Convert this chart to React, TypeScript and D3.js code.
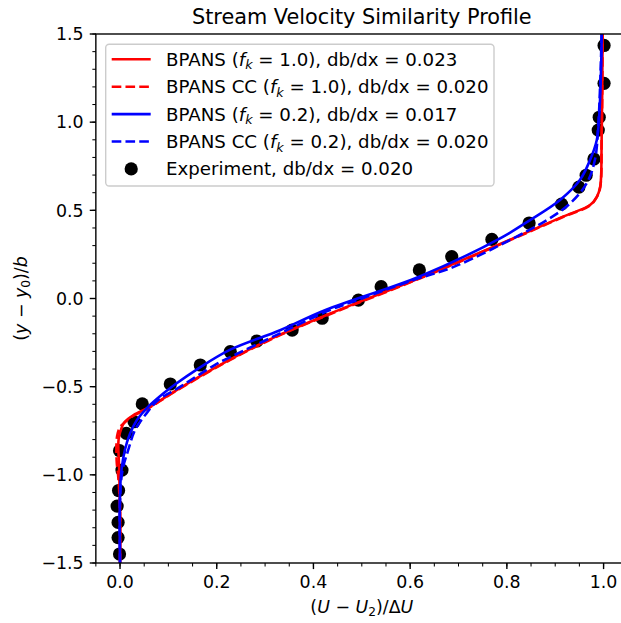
import React from "react";
import * as d3 from "d3";

const titleText = "Stream Velocity Similarity Profile";
const xTickValues = [0, 0.2, 0.4, 0.6, 0.8, 1.0];
const yTickValues = [-1.5, -1.0, -0.5, 0, 0.5, 1.0, 1.5];

// BPANS (fk = 1.0), db/dx = 0.023  -> [U, y]
const redSolid: [number, number][] = [
  [0.0, -1.5], [0.0, -1.2], [-0.002, -0.95], [-0.003, -0.8], [0.004, -0.727], [0.01, -0.699],
  [0.028, -0.661], [0.062, -0.614], [0.117, -0.519], [0.228, -0.345], [0.331, -0.205],
  [0.435, -0.085], [0.621, 0.118], [0.813, 0.341], [0.916, 0.464], [0.972, 0.53], [0.986, 0.577],
  [0.993, 0.634], [0.996, 0.9], [0.998, 1.5],
];
// BPANS CC (fk = 1.0), db/dx = 0.020
const redDashed: [number, number][] = [
  [0.0, -1.5], [0.0, -1.2], [-0.004, -1.0], [-0.007, -0.92], [-0.006, -0.78], [0.0, -0.73],
  [0.01, -0.702], [0.028, -0.665], [0.062, -0.617], [0.117, -0.522], [0.228, -0.348],
  [0.331, -0.208], [0.435, -0.088], [0.621, 0.115], [0.813, 0.339], [0.916, 0.462],
  [0.972, 0.528], [0.986, 0.575], [0.993, 0.63], [0.996, 0.9], [0.998, 1.5],
];
// BPANS (fk = 0.2), db/dx = 0.017
const blueSolid: [number, number][] = [
  [0.0, -1.5], [0.0, -1.1], [0.003, -0.973], [0.01, -0.859], [0.021, -0.764], [0.035, -0.689],
  [0.055, -0.623], [0.09, -0.538], [0.115, -0.485], [0.16, -0.4], [0.228, -0.29],
  [0.331, -0.18], [0.425, -0.065], [0.621, 0.127], [0.786, 0.341], [0.848, 0.445],
  [0.91, 0.559], [0.951, 0.672], [0.972, 0.785], [0.986, 0.899], [0.991, 1.036],
  [0.995, 1.318], [0.996, 1.5],
];
// BPANS CC (fk = 0.2), db/dx = 0.020
const blueDashed: [number, number][] = [
  [0.0, -1.5], [0.0, -1.15], [0.005, -0.976], [0.017, -0.859], [0.031, -0.746], [0.052, -0.661],
  [0.079, -0.576], [0.125, -0.5], [0.194, -0.38], [0.228, -0.332], [0.331, -0.198],
  [0.43, -0.07], [0.5, 0.0], [0.607, 0.105], [0.689, 0.178], [0.813, 0.341], [0.883, 0.445],
  [0.931, 0.54], [0.965, 0.653], [0.982, 0.785], [0.989, 0.98], [0.994, 1.3], [0.996, 1.5],
];
// Experiment, db/dx = 0.020
const experiment: [number, number][] = [
  [1.001, 1.435], [1.001, 1.22], [0.991, 1.028], [0.989, 0.955], [0.98, 0.791], [0.964, 0.699],
  [0.949, 0.632], [0.913, 0.535], [0.846, 0.428], [0.769, 0.335], [0.686, 0.237], [0.619, 0.162],
  [0.54, 0.067], [0.493, -0.009], [0.418, -0.112], [0.356, -0.179], [0.283, -0.241],
  [0.228, -0.301], [0.166, -0.377], [0.104, -0.485], [0.046, -0.598], [0.029, -0.699],
  [0.013, -0.765], [-0.001, -0.863], [0.004, -0.973], [-0.003, -1.089], [-0.006, -1.177],
  [-0.004, -1.27], [-0.004, -1.356], [-0.001, -1.449],
];

const seriesNames = ["BPANS", "BPANS CC", "BPANS", "BPANS CC"];
const seriesFk = ["1.0", "1.0", "0.2", "0.2"];
const seriesDb = ["0.023", "0.020", "0.017", "0.020"];
const seriesColors = ["#ff0000", "#ff0000", "#0000ff", "#0000ff"];
const seriesDashed = [false, true, false, true];
const seriesData = [redSolid, redDashed, blueSolid, blueDashed];
const expLabel = "Experiment, db/dx = 0.020";

export default function App() {
  const W = 621, H = 623;
  const left = 95.85, right = 627.75, top = 34, bottom = 563;
  const x = d3.scaleLinear().domain([-0.05, 1.05]).range([left, right]);
  const y = d3.scaleLinear().domain([-1.5, 1.5]).range([bottom, top]);
  const line = d3
    .line<[number, number]>()
    .x((d) => x(d[0]))
    .y((d) => y(d[1]))
    .curve(d3.curveCatmullRom.alpha(0.5));

  const fs = 17.4;
  const lfs = 18.2;
  const lw = 2.6;
  const tickLen = 6.1;
  const minorLen = 3.5;
  const xMinor = d3.range(-0.05, 1.0501, 0.05);
  const yMinor = d3.range(-1.5, 1.5001, 0.1);

  const legX = 105.7, legY = 44.3, legW = 388.3, legH = 141.7;
  const rowY = (i: number) => 59.3 + i * 27.4;
  const hx0 = 111.7, hx1 = 150.7, tx = 166;

  return (
    <svg
      width={W}
      height={H}
      style={{ position: "absolute", left: 0, top: 0, display: "block" }}
      fontFamily="DejaVu Sans"
    >
      <rect x={0} y={0} width={W} height={H} fill="#ffffff" />
      <defs>
        <clipPath id="plotclip">
          <rect x={left} y={top} width={right - left} height={bottom - top} />
        </clipPath>
      </defs>
      <text x={(left + right) / 2} y={top - 10.4} textAnchor="middle" fontSize={20.8} fill="#000">
        {titleText}
      </text>
      <g clipPath="url(#plotclip)">
        {experiment.map((d, i) => (
          <circle key={i} cx={x(d[0])} cy={y(d[1])} r={6.6} fill="#000" />
        ))}
        {seriesData.map((data, i) => (
          <path
            key={i}
            d={line(data) || ""}
            fill="none"
            stroke={seriesColors[i]}
            strokeWidth={lw}
            strokeDasharray={seriesDashed[i] ? `${3.7 * lw},${1.6 * lw}` : undefined}
          />
        ))}
      </g>
      {xMinor.map((v, i) => (
        <line key={"xm" + i} x1={x(v)} x2={x(v)} y1={bottom} y2={bottom + minorLen} stroke="#000" strokeWidth={1.04} />
      ))}
      {yMinor.map((v, i) => (
        <line key={"ym" + i} x1={left} x2={left - minorLen} y1={y(v)} y2={y(v)} stroke="#000" strokeWidth={1.04} />
      ))}
      {xTickValues.map((v) => (
        <g key={"xt" + v}>
          <line x1={x(v)} x2={x(v)} y1={bottom} y2={bottom + tickLen} stroke="#000" strokeWidth={1.39} />
          <text x={x(v)} y={bottom + 12.2 + fs * 0.76} textAnchor="middle" fontSize={fs} fill="#000">
            {v.toFixed(1)}
          </text>
        </g>
      ))}
      {yTickValues.map((v) => (
        <g key={"yt" + v}>
          <line x1={left} x2={left - tickLen} y1={y(v)} y2={y(v)} stroke="#000" strokeWidth={1.39} />
          <text x={left - 12.2} y={y(v) + fs * 0.36} textAnchor="end" fontSize={fs} fill="#000">
            {(v < 0 ? "\u2212" : "") + Math.abs(v).toFixed(1)}
          </text>
        </g>
      ))}
      <rect x={left} y={top} width={right - left} height={bottom - top} fill="none" stroke="#000" strokeWidth={1.39} />
      <text x={(left + right) / 2} y={613} textAnchor="middle" fontSize={fs} fill="#000">
        <tspan>(</tspan>
        <tspan fontStyle="italic">U</tspan>
        <tspan>{" \u2212 "}</tspan>
        <tspan fontStyle="italic">U</tspan>
        <tspan fontSize={fs * 0.7} dy={fs * 0.2}>2</tspan>
        <tspan dy={-fs * 0.2}>)/Δ</tspan>
        <tspan fontStyle="italic">U</tspan>
      </text>
      <text
        transform={`translate(27,${(top + bottom) / 2}) rotate(-90)`}
        textAnchor="middle"
        fontSize={fs}
        fill="#000"
      >
        <tspan>(</tspan>
        <tspan fontStyle="italic">y</tspan>
        <tspan>{" \u2212 "}</tspan>
        <tspan fontStyle="italic">y</tspan>
        <tspan fontSize={fs * 0.7} dy={fs * 0.2}>0</tspan>
        <tspan dy={-fs * 0.2}>)/</tspan>
        <tspan fontStyle="italic">b</tspan>
      </text>
      <rect
        x={legX}
        y={legY}
        width={legW}
        height={legH}
        rx={3.5}
        fill="#ffffff"
        fillOpacity={0.8}
        stroke="#cccccc"
        strokeWidth={1.39}
      />
      {seriesNames.map((name, i) => (
        <g key={"lg" + i}>
          <line
            x1={hx0}
            x2={hx1}
            y1={rowY(i)}
            y2={rowY(i)}
            stroke={seriesColors[i]}
            strokeWidth={lw}
            strokeDasharray={seriesDashed[i] ? `${3.7 * lw},${1.6 * lw}` : undefined}
          />
          <text x={tx} y={rowY(i) + lfs * 0.36} fontSize={lfs} fill="#000">
            <tspan>{name + " ("}</tspan>
            <tspan fontStyle="italic">f</tspan>
            <tspan fontStyle="italic" fontSize={lfs * 0.7} dy={lfs * 0.2}>k</tspan>
            <tspan dy={-lfs * 0.2}>{" = " + seriesFk[i] + "), db/dx = " + seriesDb[i]}</tspan>
          </text>
        </g>
      ))}
      <circle cx={(hx0 + hx1) / 2} cy={rowY(4)} r={6.6} fill="#000" />
      <text x={tx} y={rowY(4) + lfs * 0.36} fontSize={lfs} fill="#000">
        {expLabel}
      </text>
    </svg>
  );
}
